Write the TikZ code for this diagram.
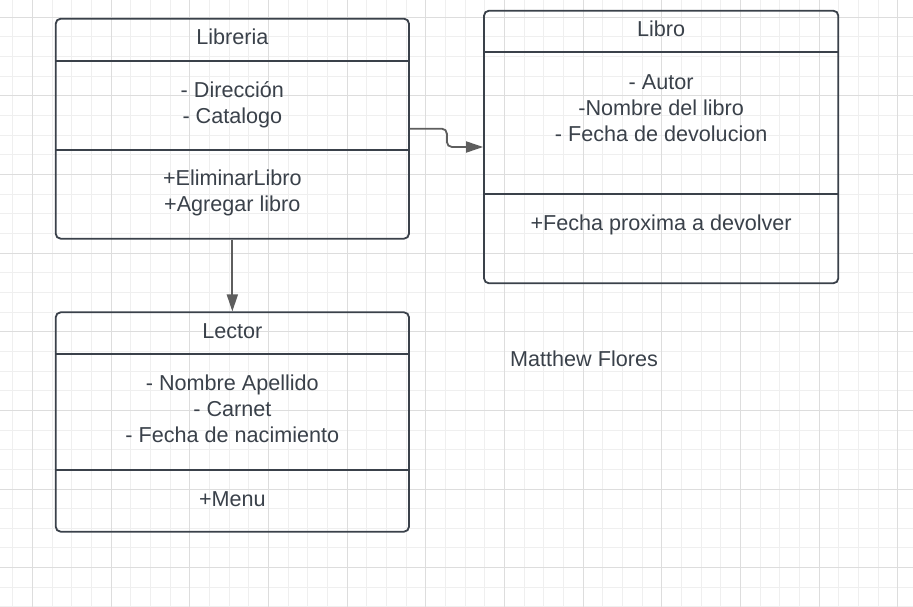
\documentclass[tikz,border=0pt]{standalone}
\usepackage{fontspec}
\setmainfont{Liberation Sans}
\usetikzlibrary{arrows.meta}
\definecolor{boxline}{HTML}{3A414A}
\definecolor{txt}{HTML}{3A414A}
\definecolor{conncol}{HTML}{5E5E5E}
\definecolor{gridminor}{HTML}{EFEFEF}
\definecolor{gridmajor}{HTML}{DDDDDD}
\tikzset{
  classbox/.style={draw=boxline, line width=1.8pt, rounded corners=5pt, fill=none, inner sep=0pt},
  divider/.style={draw=boxline, line width=1.8pt},
  lbl/.style={anchor=base, inner sep=0pt, text=txt, font=\fontsize{21.6}{26}\selectfont},
  conn/.style={draw=conncol, line width=1.8pt, -{Triangle[length=17pt,width=11pt]}},
  minorgrid/.style={draw=gridminor, line width=1pt},
  majorgrid/.style={draw=gridmajor, line width=1pt}
}
\begin{document}
\begin{tikzpicture}[x=1pt,y=-1pt]
\useasboundingbox (0,0) rectangle (913,607);
\fill[white] (0,0) rectangle (913,607);
% grid
\foreach \k in {0,...,45}{
  \pgfmathsetmacro\gx{12.84+\k*19.6625}
  \draw[minorgrid] (\gx,0) -- (\gx,607);
}
\foreach \k in {0,...,30}{
  \pgfmathsetmacro\gy{17.1+\k*19.6625}
  \draw[minorgrid] (0,\gy) -- (913,\gy);
}
\foreach \k in {1,5,...,45}{
  \pgfmathsetmacro\gx{12.84+\k*19.6625}
  \draw[majorgrid] (\gx,0) -- (\gx,607);
}
\foreach \k in {0,4,...,28}{
  \pgfmathsetmacro\gy{17.1+\k*19.6625}
  \draw[majorgrid] (0,\gy) -- (913,\gy);
}
% Libreria
\node[classbox, minimum width=353.3pt, minimum height=220pt] (libreria) at (232.35,128.7) {};
\draw[divider] (libreria.west |- 0,60.7) -- (libreria.east |- 0,60.7);
\draw[divider] (libreria.west |- 0,149.7) -- (libreria.east |- 0,149.7);
\node[lbl] (libt) at (232.35,44.3) {Libreria};
\node[lbl] (liba1) at (232.35,97.3) {- Dirección};
\node[lbl] (liba2) at (232.35,123.3) {- Catalogo};
\node[lbl] (libm1) at (232.35,185.7) {+EliminarLibro};
\node[lbl] (libm2) at (232.35,211.7) {+Agregar libro};
% Libro
\node[classbox, minimum width=354.3pt, minimum height=272.6pt] (libro) at (661.15,147) {};
\draw[divider] (libro.west |- 0,52.3) -- (libro.east |- 0,52.3);
\draw[divider] (libro.west |- 0,193.7) -- (libro.east |- 0,193.7);
\node[lbl] (lbt) at (661.15,36.7) {Libro};
\node[lbl] (lba1) at (661.15,89.3) {- Autor};
\node[lbl] (lba2) at (661.15,115.3) {-Nombre del libro};
\node[lbl] (lba3) at (661.15,141.5) {- Fecha de devolucion};
\node[lbl] (lbm1) at (661.15,230) {+Fecha proxima a devolver};
% Lector
\node[classbox, minimum width=353.3pt, minimum height=219.4pt] (lector) at (232.35,422) {};
\draw[divider] (lector.west |- 0,353.7) -- (lector.east |- 0,353.7);
\draw[divider] (lector.west |- 0,469.7) -- (lector.east |- 0,469.7);
\node[lbl] (let) at (232.35,338.3) {Lector};
\node[lbl] (lea1) at (232.35,390.3) {- Nombre Apellido};
\node[lbl] (lea2) at (232.35,416.7) {- Carnet};
\node[lbl] (lea3) at (232.35,442.7) {- Fecha de nacimiento};
\node[lbl] (lem1) at (232.35,506) {+Menu};
% author
\node[lbl, anchor=base west] (author) at (510,366.7) {Matthew Flores};
% connectors
\draw[conn, rounded corners=5pt] (libreria.east) -- ++(37,0) |- (libro.west);
\draw[conn] (libreria.south) -- (lector.north);
\end{tikzpicture}
\end{document}
